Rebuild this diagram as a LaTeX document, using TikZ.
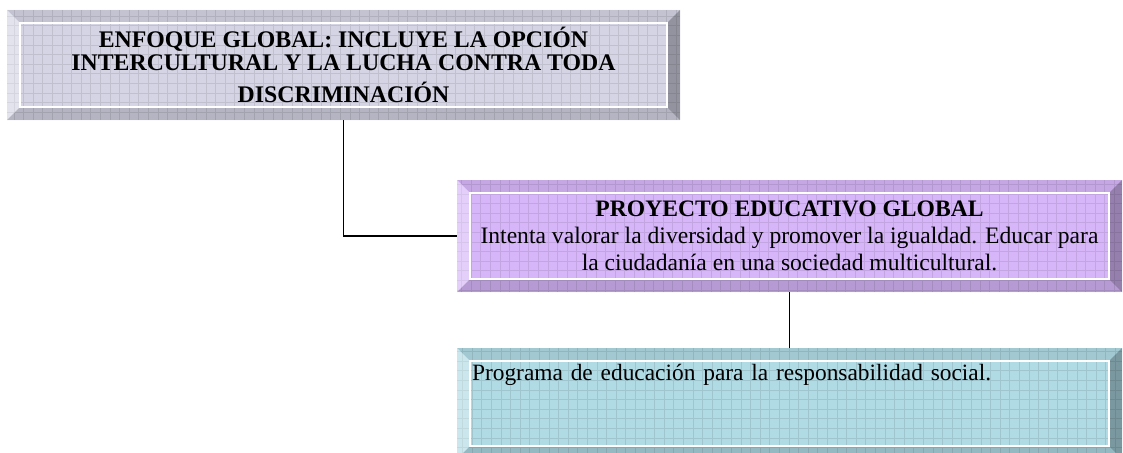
\documentclass[tikz,border=0pt]{standalone}
\usepackage{fontspec}
\setmainfont{Liberation Serif}
\usetikzlibrary{calc}

\definecolor{boxgray}{RGB}{212,212,228}
\definecolor{boxviolet}{RGB}{214,182,248}
\definecolor{boxteal}{RGB}{176,218,228}

\tikzset{
  bevelbox/.style={fill=#1, inner sep=0pt, outer sep=0pt,
    path picture={
      \path (path picture bounding box.south west) coordinate (bsw)
            (path picture bounding box.north east) coordinate (bne);
      \path ($(bsw)+(13pt,13pt)$) coordinate (isw)
            ($(bne)+(-13pt,-13pt)$) coordinate (ine);
      % grid texture
      \draw[#1!70!black, line width=.4pt, step=9.6pt, opacity=.3] (bsw) grid (bne);
      % bevels
      \fill[black, opacity=.08] (bsw|-bne) -- (bne) -- (ine) -- (isw|-ine) -- cycle;
      \fill[white, opacity=.35] (bsw) -- (bsw|-bne) -- (isw|-ine) -- (isw) -- cycle;
      \fill[black, opacity=.3] (bne) -- (bne|-bsw) -- (ine|-isw) -- (ine) -- cycle;
      \fill[black, opacity=.15] (bsw) -- (bne|-bsw) -- (ine|-isw) -- (isw) -- cycle;
      % inner frame
      \draw[white, line width=1.2pt] (isw) rectangle (ine);
    }},
  link/.style={line width=1.3pt}
}

\begin{document}
\begin{tikzpicture}[x=1pt,y=1pt]
\useasboundingbox (0,0) rectangle (1123,-452);

% Global approach
\node[bevelbox=boxgray, minimum width=673pt, minimum height=110pt, align=center,
      font=\fontsize{23.8}{23}\selectfont\bfseries] (global) at (343.5,-65)
  {ENFOQUE GLOBAL: INCLUYE LA OPCIÓN\\INTERCULTURAL Y LA LUCHA CONTRA TODA\\[8.5pt]DISCRIMINACIÓN};

% Educational project
\node[bevelbox=boxviolet, minimum width=665pt, minimum height=112pt, align=center,
      font=\fontsize{23.6}{27}\selectfont] (proyecto) at (789.5,-236)
  {\textbf{PROYECTO EDUCATIVO GLOBAL}\\Intenta valorar la diversidad y promover la igualdad. Educar para\\la ciudadanía en una sociedad multicultural.};

% Programme
\node[bevelbox=boxteal, minimum width=665pt, minimum height=111pt, text width=635pt,
      inner xsep=15pt, align=left, text depth=63pt,
      font=\fontsize{23.4}{28}\selectfont] (programa) at (789.5,-403.5)
  {Programa de educación para la responsabilidad social.};

% Connectors
\draw[link] (global.south) |- (proyecto.west);
\draw[link] (proyecto.south) -- (programa.north);

\end{tikzpicture}
\end{document}
